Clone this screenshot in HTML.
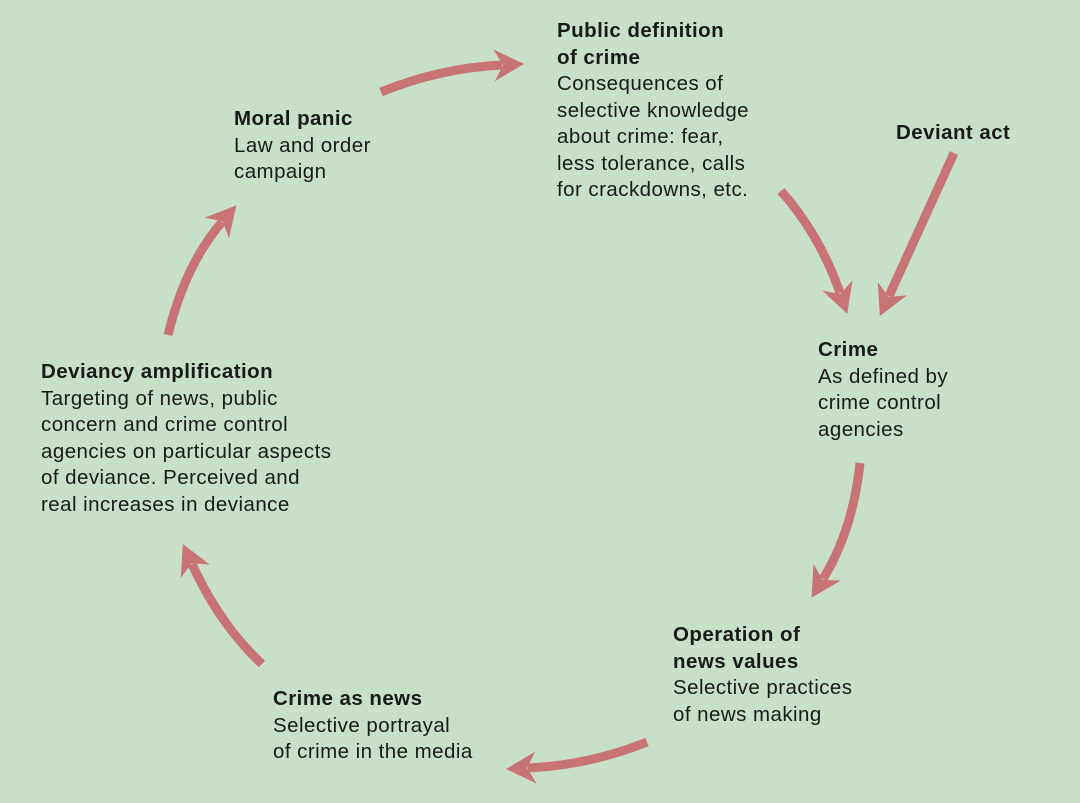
<!DOCTYPE html>
<html><head><style>
body{margin:0;width:1080px;height:803px;background:#c8dfca;position:relative;overflow:hidden;font-family:"Liberation Sans",Arial,sans-serif;color:#1a1a1a}
.t{position:absolute;font-size:20.5px;letter-spacing:0.45px;line-height:26.5px;white-space:nowrap}
b{font-weight:bold}
svg{position:absolute;left:0;top:0}
</style></head><body>
<svg width="1080" height="803">
<defs>
<marker id="a" markerUnits="userSpaceOnUse" markerWidth="40" markerHeight="40" refX="12" refY="20" orient="auto">
<polygon points="34,20 4,4 13,20 4,36" fill="#c87474"/>
</marker>
</defs>
<g stroke="#c87474" stroke-width="9" fill="none" marker-end="url(#a)">
<path d="M381,92 Q440,68 502,65"/>
<path d="M781,191 Q820,235 840,293"/>
<path d="M954,153 L889,296"/>
<path d="M860,463 Q853,530 823,579"/>
<path d="M647,742 Q590,765 528,768"/>
<path d="M262,664 Q220,625 192,564"/>
<path d="M168,335 Q185,265 222,222"/>
</g>
</svg>
<div class="t" style="left:557px;top:18px"><b>Public definition<br>of crime</b><br>Consequences of<br>selective knowledge<br>about crime: fear,<br>less tolerance, calls<br>for crackdowns, etc.</div>
<div class="t" style="left:234px;top:106px"><b>Moral panic</b><br>Law and order<br>campaign</div>
<div class="t" style="left:896px;top:120px"><b>Deviant act</b></div>
<div class="t" style="left:818px;top:337px"><b>Crime</b><br>As defined by<br>crime control<br>agencies</div>
<div class="t" style="left:41px;top:359px"><b>Deviancy amplification</b><br>Targeting of news, public<br>concern and crime control<br>agencies on particular aspects<br>of deviance. Perceived and<br>real increases in deviance</div>
<div class="t" style="left:673px;top:622px"><b>Operation of<br>news values</b><br>Selective practices<br>of news making</div>
<div class="t" style="left:273px;top:686px"><b>Crime as news</b><br>Selective portrayal<br>of crime in the media</div>
</body></html>
